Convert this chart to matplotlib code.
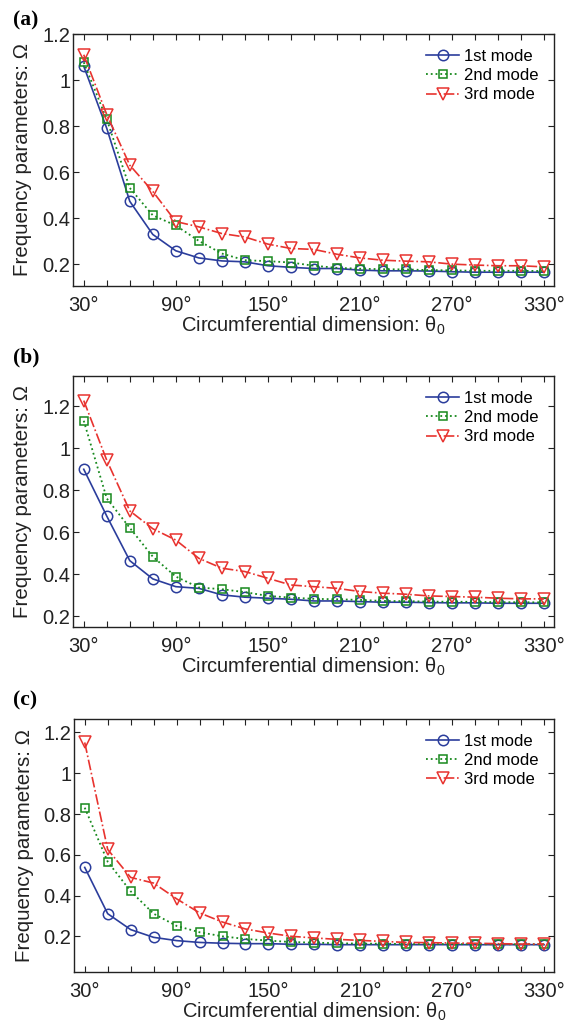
import matplotlib.pyplot as plt
from matplotlib.ticker import FixedLocator, FuncFormatter

plt.rcParams['font.family'] = ['Liberation Sans', 'DejaVu Sans']

theta = [30, 45, 60, 75, 90, 105, 120, 135, 150, 165, 180, 195, 210, 225,
         240, 255, 270, 285, 300, 315, 330]

# panel (a)
a_mode1 = [1.06, 0.79, 0.473, 0.329, 0.258, 0.227, 0.214, 0.21, 0.193, 0.186, 0.181,
           0.181, 0.174, 0.171, 0.171, 0.17, 0.167, 0.165, 0.165, 0.165, 0.165]
a_mode2 = [1.077, 0.829, 0.531, 0.412, 0.368, 0.301, 0.246, 0.217, 0.213, 0.207, 0.193,
           0.184, 0.18, 0.178, 0.177, 0.174, 0.173, 0.171, 0.171, 0.171, 0.17]
a_mode3 = [1.11, 0.85, 0.63, 0.516, 0.385, 0.362, 0.333, 0.318, 0.287, 0.268, 0.264,
           0.243, 0.227, 0.217, 0.213, 0.21, 0.2, 0.196, 0.193, 0.193, 0.188]

# panel (b)
b_mode1 = [0.901, 0.678, 0.466, 0.379, 0.342, 0.334, 0.303, 0.292, 0.287, 0.282, 0.274,
           0.274, 0.271, 0.268, 0.268, 0.266, 0.265, 0.265, 0.263, 0.263, 0.263]
b_mode2 = [1.132, 0.762, 0.622, 0.485, 0.39, 0.338, 0.33, 0.316, 0.298, 0.29, 0.284,
           0.282, 0.279, 0.274, 0.273, 0.271, 0.27, 0.27, 0.268, 0.268, 0.267]
b_mode3 = [1.228, 0.944, 0.703, 0.618, 0.564, 0.477, 0.43, 0.414, 0.382, 0.35, 0.342,
           0.334, 0.319, 0.311, 0.306, 0.298, 0.295, 0.292, 0.287, 0.284, 0.284]

# panel (c)
c_mode1 = [0.538, 0.311, 0.233, 0.195, 0.179, 0.17, 0.166, 0.164, 0.164, 0.161, 0.161,
           0.159, 0.159, 0.159, 0.159, 0.159, 0.159, 0.159, 0.159, 0.159, 0.159]
c_mode2 = [0.831, 0.566, 0.421, 0.311, 0.251, 0.22, 0.2, 0.187, 0.179, 0.172, 0.169,
           0.166, 0.164, 0.164, 0.162, 0.162, 0.162, 0.161, 0.161, 0.161, 0.161]
c_mode3 = [1.151, 0.626, 0.489, 0.461, 0.384, 0.315, 0.27, 0.236, 0.216, 0.2, 0.192,
           0.185, 0.18, 0.175, 0.17, 0.169, 0.167, 0.166, 0.164, 0.162, 0.162]

yticks = [0.2, 0.4, 0.6, 0.8, 1.0, 1.2]
ytick_labels = ['0.2', '0.4', '0.6', '0.8', '1', '1.2']

panels = [
    ('(a)', a_mode1, a_mode2, a_mode3, (0.105, 1.2)),
    ('(b)', b_mode1, b_mode2, b_mode3, (0.15, 1.345)),
    ('(c)', c_mode1, c_mode2, c_mode3, (0.025, 1.266)),
]

W, H = 575, 1028
# axes boxes in pixels: left, top, right, bottom
boxes = [(73, 34, 554, 286), (73, 376, 554, 627), (74, 719, 554, 972)]
label_y = [20, 357, 700]

blue = '#2b3d9c'
green = '#17891d'
red = '#e8332f'
ink = '#222222'

fig = plt.figure(figsize=(W / 100, H / 100), dpi=100)

for (tag, m1, m2, m3, ylim), (l, t, r, b), ly in zip(panels, boxes, label_y):
    ax = fig.add_axes([l / W, 1 - b / H, (r - l) / W, (b - t) / H])
    ax.plot(theta, m1, '-', color=blue, lw=1.2, marker='o', ms=7.5,
            mfc='none', mec=blue, mew=1.1, label='1st mode')
    ax.plot(theta, m2, ':', color=green, lw=1.3, marker='s', ms=6,
            mfc='none', mec=green, mew=1.1, label='2nd mode')
    ax.plot(theta, m3, '-.', color=red, lw=1.2, marker='v', ms=8,
            mfc='none', mec=red, mew=1.1, label='3rd mode')
    ax.set_xlim(23, 336.5)
    ax.set_ylim(*ylim)
    ax.xaxis.set_major_locator(FixedLocator(theta))
    ax.xaxis.set_major_formatter(FuncFormatter(
        lambda v, p: f'{int(round(v))}\u00b0' if int(round(v)) % 60 == 30 else ''))
    ax.set_yticks(yticks)
    ax.set_yticklabels(ytick_labels)
    ax.tick_params(direction='in', top=True, right=True, length=4, width=0.8,
                   labelsize=14.5, colors=ink)
    ax.tick_params(axis='x', pad=7)
    ax.tick_params(axis='y', pad=2)
    for s in ax.spines.values():
        s.set_linewidth(1.0)
        s.set_color(ink)
    ax.set_xlabel('Circumferential dimension: $\\mathregular{\\theta_0}$',
                  fontsize=14.5, labelpad=0, color=ink)
    ax.set_ylabel('Frequency parameters: \u03a9', fontsize=14.8, labelpad=7,
                  color=ink)
    ax.legend(loc='upper right', frameon=False, fontsize=12, handlelength=2.0,
              handletextpad=0.3, labelspacing=0.25, borderaxespad=0.5)
    fig.text(13 / W, 1 - ly / H, tag, fontsize=15.5, fontweight='bold',
             family='Liberation Serif', va='center', ha='left')

fig.savefig('out.png', dpi=100)
